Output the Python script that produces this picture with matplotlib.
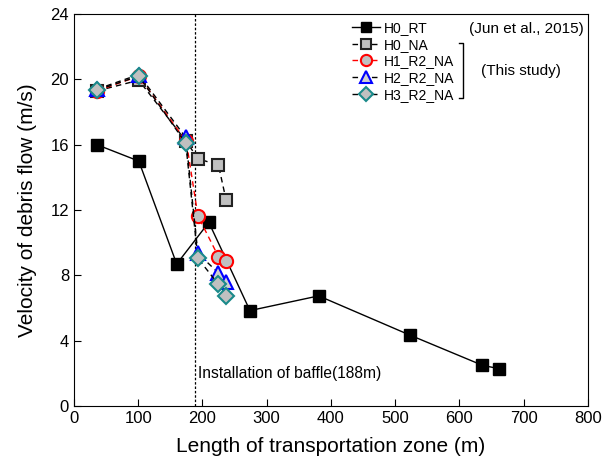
import matplotlib.pyplot as plt
from matplotlib.lines import Line2D

plt.rcParams['font.family'] = ['Liberation Sans', 'DejaVu Sans']

# Datos
x_h0_rt = [36, 101, 160, 210, 274, 381, 523, 636, 661]
y_h0_rt = [16.0, 15.0, 8.7, 11.25, 5.85, 6.75, 4.35, 2.5, 2.3]

x_h0_na = [36, 101, 175, 193, 225, 237]
y_h0_na = [19.3, 19.95, 16.2, 15.15, 14.75, 12.6]

x_h1 = [36, 101, 175, 193, 225, 236]
y_h1 = [19.3, 20.2, 16.2, 11.65, 9.15, 8.9]

x_h2 = [36, 101, 174, 193, 225, 237]
y_h2 = [19.4, 20.3, 16.45, 9.35, 8.15, 7.6]

x_h3 = [36, 101, 174, 193, 225, 237]
y_h3 = [19.35, 20.2, 16.1, 9.05, 7.45, 6.75]

baffle_x = 188

fig = plt.figure(figsize=(6.06, 4.69), dpi=100)
ax = fig.add_axes([0.122, 0.134, 0.848, 0.836])

ms = 8.5
ax.plot(x_h0_rt, y_h0_rt, color="black", linewidth=1, linestyle="solid",
        marker="s", markersize=ms, markerfacecolor="black",
        markeredgecolor="black", label="H0_RT", zorder=3)
ax.plot(x_h0_na, y_h0_na, color="black", linewidth=1, linestyle=(0, (4, 3)),
        marker="s", markersize=ms, markerfacecolor="#c0c0c0",
        markeredgecolor="#222222", markeredgewidth=1.5, label="H0_NA", zorder=3)
ax.plot(x_h1, y_h1, color="red", linewidth=1, linestyle=(0, (4, 3)),
        marker="o", markersize=ms + 1, markerfacecolor="#c0c0c0",
        markeredgecolor="red", markeredgewidth=1.5, label="H1_R2_NA", zorder=4)
ax.plot(x_h2, y_h2, color="black", linewidth=1, linestyle=(0, (4, 3)),
        marker="^", markersize=ms + 1, markerfacecolor="#d0d0d0",
        markeredgecolor="blue", markeredgewidth=1.5, label="H2_R2_NA", zorder=5)
ax.plot(x_h3, y_h3, color="black", linewidth=1, linestyle=(0, (4, 3)),
        marker="D", markersize=ms, markerfacecolor="#c0c0c0",
        markeredgecolor="#1a8a8a", markeredgewidth=1.5, label="H3_R2_NA", zorder=6)

# Linea del deflector
ax.axvline(baffle_x, color="black", linestyle=(0, (2, 1.5)), linewidth=0.9, zorder=2)
ax.text(baffle_x + 5, 2.0, "Installation of baffle(188m)", fontsize=11.2,
        va="center", ha="left")

ax.set_xlim(0, 800)
ax.set_ylim(0, 24)
ax.set_xticks(range(0, 801, 100))
ax.set_yticks(range(0, 25, 4))
ax.tick_params(direction="in", labelsize=12, length=5, top=False, right=False)
ax.set_xlabel("Length of transportation zone (m)", fontsize=15, labelpad=8)
ax.set_ylabel("Velocity of debris flow (m/s)", fontsize=15, labelpad=10)

leg = ax.legend(loc="upper left", bbox_to_anchor=(0.53, 0.997), frameon=False,
                fontsize=10, labelspacing=0.2, handlelength=2.0,
                handletextpad=0.3, borderaxespad=0, markerscale=0.85)

ax.text(0.993, 0.962, "(Jun et al., 2015)", transform=ax.transAxes,
        fontsize=11, ha="right", va="center")
ax.text(0.87, 0.855, "(This study)", transform=ax.transAxes,
        fontsize=11, ha="center", va="center")
# Corchete para "This study"
bx0, bx1 = 0.749, 0.757
by0, by1 = 0.926, 0.786
ax.add_line(Line2D([bx0, bx1, bx1, bx0], [by0, by0, by1, by1],
                   transform=ax.transAxes, color="black", linewidth=1))

plt.savefig("out.png", dpi=100)
plt.close()
